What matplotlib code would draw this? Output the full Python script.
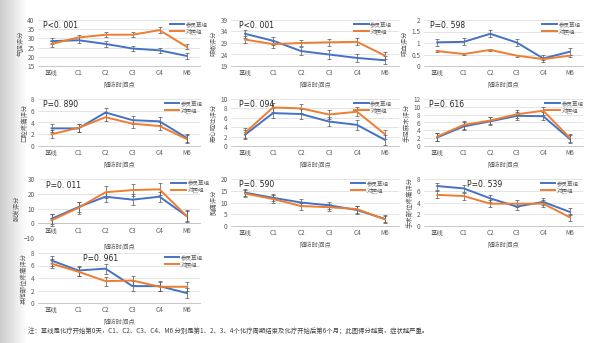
import numpy as np
import matplotlib
matplotlib.use("Agg")
import matplotlib.pyplot as plt
from matplotlib.lines import Line2D

plt.rcParams['font.family'] = ['Noto Sans CJK SC', 'DejaVu Sans']

categories = ['基线', 'C1', 'C2', 'C3', 'C4', 'M6']
group_names = ['参灵草组', '对照组']

# 每个小图: y标签, P值, 参灵草组均值, 对照组均值, 误差
ylabels = ['气促评分', '咳嗽评分', '咳血评分', '口腔疼痛评分', '恶心呕吐评分',
           '手足麻木评分', '脱发评分', '胸痛评分', '手术部位疼痛评分', '其他部位疼痛评分']
pvalues = ['P<0. 001', 'P<0. 001', 'P=0. 598', 'P=0. 890', 'P=0. 094',
           'P=0. 616', 'P=0. 011', 'P=0. 590', 'P=0. 539', 'P=0. 961']

blue1 = [28.5, 29.0, 27.0, 24.5, 23.5, 20.5]
orange1 = [27.0, 30.5, 32.0, 32.0, 34.5, 25.5]
blue2 = [33.0, 30.0, 25.5, 24.0, 22.5, 21.5]
orange2 = [30.5, 28.5, 29.0, 29.3, 29.5, 23.5]
blue3 = [1.03, 1.05, 1.40, 1.02, 0.33, 0.62]
orange3 = [0.65, 0.52, 0.70, 0.45, 0.30, 0.45]
blue4 = [3.0, 3.0, 5.7, 4.4, 4.2, 1.4]
orange4 = [2.0, 3.1, 4.9, 3.8, 3.4, 1.2]
blue5 = [2.4, 7.0, 6.8, 5.2, 4.5, 1.3]
orange5 = [2.8, 8.2, 8.0, 6.7, 7.3, 2.5]
blue6 = [2.2, 5.0, 6.3, 7.7, 7.6, 1.8]
orange6 = [2.4, 5.4, 6.5, 8.1, 9.0, 2.1]
blue7 = [3.0, 11.0, 18.0, 16.0, 18.0, 5.0]
orange7 = [2.0, 10.5, 21.0, 22.5, 23.0, 5.0]
blue8 = [14.2, 12.0, 10.0, 8.8, 6.8, 3.0]
orange8 = [13.8, 11.5, 8.5, 8.0, 7.2, 2.8]
blue9 = [6.8, 6.4, 4.7, 3.3, 4.1, 2.4]
orange9 = [5.3, 5.1, 3.8, 3.8, 3.8, 1.5]
blue10 = [6.8, 5.2, 5.5, 2.7, 2.7, 1.6]
orange10 = [6.3, 5.0, 3.5, 3.6, 2.6, 2.6]

errs = [1.5, 1.8, 0.15, 0.7, 1.0, 1.0, 3.5, 1.5, 0.6, 0.8]
orange_errs = [1.5, 1.5, 0.05, 0.7, 1.0, 1.0, 4.0, 1.5, 0.6, 0.7]

yticks = [np.arange(15, 41, 5), np.arange(19, 40, 5), np.arange(0, 2.01, 0.5),
          np.arange(0, 9, 2), np.arange(0, 11, 2), np.arange(0, 13, 2),
          np.arange(-10, 31, 10), np.arange(0, 21, 5), np.arange(0, 9, 2), np.arange(0, 9, 2)]

blues = [blue1, blue2, blue3, blue4, blue5, blue6, blue7, blue8, blue9, blue10]
oranges = [orange1, orange2, orange3, orange4, orange5, orange6, orange7, orange8, orange9, orange10]

W, H = 600, 343
# 各图绘图区 (左, 右, 上, 下) 像素
col_x = [(38, 200), (231, 399), (424, 583)]
row_y = [(20, 66), (99, 146), (179, 238), (253, 303)]
boxes = []
for i in range(10):
    r, c = divmod(i, 3)
    x0, x1 = col_x[c]
    y0, y1 = row_y[r]
    if i in (7, 8):
        y1 = 226
    boxes.append((x0, x1, y0, y1))

ptext_x = [0.03, 0.05, 0.04, 0.03, 0.05, 0.03, 0.05, 0.05, 0.27, 0.28]
legend_x = [0.80, 0.72, 0.73, 0.77, 0.72, 0.75, 0.81, 0.70, 0.72, 0.77]

fig = plt.figure(figsize=(6, 3.43), dpi=100)

# 左侧灰色渐变背景
bg = fig.add_axes([0, 0, 0.045, 1])
grad = np.linspace(0.80, 1.0, 50).reshape(1, -1)
bg.imshow(grad, cmap='gray', vmin=0, vmax=1, aspect='auto', extent=[0, 1, 0, 1])
bg.axis('off')

blue_c = '#4472C4'
orange_c = '#ED7D31'
x = np.arange(len(categories))
handles = [Line2D([], [], color=blue_c, lw=1.4), Line2D([], [], color=orange_c, lw=1.4)]

for i in range(10):
    x0, x1, y0, y1 = boxes[i]
    ax = fig.add_axes([x0 / W, 1 - y1 / H, (x1 - x0) / W, (y1 - y0) / H])
    ax.errorbar(x, blues[i], yerr=errs[i], color=blue_c, lw=1.4, ecolor='#555555',
                elinewidth=0.5, capsize=1.2, capthick=0.5, zorder=3)
    ax.errorbar(x, oranges[i], yerr=orange_errs[i], color=orange_c, lw=1.4, ecolor='#555555',
                elinewidth=0.5, capsize=1.2, capthick=0.5, zorder=3)
    yt = yticks[i]
    ax.set_ylim(yt[0], yt[-1])
    ax.set_yticks(yt)
    if i == 2:
        ax.set_yticklabels(['0', '0.5', '1', '1.5', '2'])
    ax.set_xlim(-0.5, 5.5)
    ax.set_xticks(x)
    ax.set_xticklabels(categories)
    ax.grid(axis='y', color='#d9d9d9', lw=0.5)
    ax.set_axisbelow(True)
    for s in ['top', 'right', 'left']:
        ax.spines[s].set_visible(False)
    ax.spines['bottom'].set_color('#bfbfbf')
    ax.spines['bottom'].set_linewidth(0.6)
    if i == 6:
        ax.spines['bottom'].set_position(('data', 0))
    ax.tick_params(length=0, labelsize=4.6, colors='#595959', pad=2.5)
    ax.set_ylabel(ylabels[i], fontsize=4.6, color='#595959', labelpad=2)
    ax.set_xlabel('随访时间点', fontsize=4.6, color='#595959', labelpad=2.5)
    if i == 6:
        ax.xaxis.set_label_coords(0.5, -0.08)
    ax.text(ptext_x[i], 0.89, pvalues[i], transform=ax.transAxes, fontsize=5.5,
            family=['DejaVu Sans', 'Noto Sans CJK SC'], va='center', ha='left', color='#222222')
    leg = ax.legend(handles, group_names, loc='upper left', bbox_to_anchor=(legend_x[i], 1.02),
                    frameon=False, fontsize=4.0, handlelength=2.6, handletextpad=0.3,
                    labelspacing=0.25, borderaxespad=0)
    for t in leg.get_texts():
        t.set_color('#595959')
    ax.patch.set_alpha(0)

fig.text(28 / W, 1 - 332 / H,
         '注：基线是化疗开始第0天，C1、C2、C3、C4、M6 分别是第1、2、3、4个化疗周期结束及化疗开始后第6个月；此图得分越高，症状越严重。',
         fontsize=4.6, color='#404040', va='center')

fig.savefig('out.png', dpi=100)
